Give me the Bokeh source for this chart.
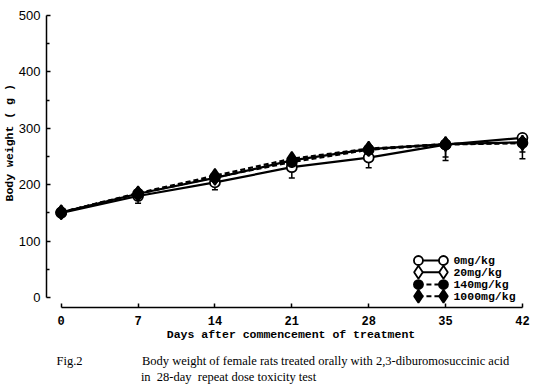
from bokeh.plotting import figure
from bokeh.models import Range1d, FixedTicker, Title, Whisker, ColumnDataSource, TeeHead
from bokeh.core.properties import value
from bokeh.embed import file_html
from bokeh.resources import INLINE

# ---- data ----
days = [0, 7, 14, 21, 28, 35, 42]
bw_0 = [150, 180, 204, 231, 248, 271, 283]
bw_20 = [151, 184, 212, 243, 263, 272, 275]
bw_140 = [151, 184, 213, 240, 262, 271, 274]
bw_1000 = [151, 185, 216, 246, 264, 272, 274]
sd_0 = [5, 13, 13, 19, 18, 22, 25]
sd_1000 = [5, 8, 10, 12, 10, 29, 28]
group_labels = ["  0mg/kg", " 20mg/kg", "140mg/kg", "1000mg/kg"]
x_ticks = [0, 7, 14, 21, 28, 35, 42]
y_ticks = [0, 100, 200, 300, 400, 500]
y_minor = [50, 150, 250, 350, 450]

MONO = "Liberation Mono"
SANS = "Liberation Sans"
SERIF = "Liberation Serif"

p = figure(frame_width=489, frame_height=294,
           min_border_left=41, min_border_right=1,
           min_border_top=13, min_border_bottom=82,
           x_range=Range1d(-1.338, 43.19), y_range=Range1d(-17.73, 503.5),
           output_backend="svg", toolbar_location=None)
p.grid.visible = False
p.outline_line_color = None
p.background_fill_color = "white"
p.border_fill_color = "white"

# axes
xa = p.xaxis[0]
xa.bounds = (0, 42)
xa.ticker = FixedTicker(ticks=x_ticks)
xa.major_tick_in = 4
xa.major_tick_out = 0
xa.minor_tick_in = 0
xa.minor_tick_out = 0
xa.axis_line_width = 1.5
xa.major_tick_line_width = 1.5
xa.major_label_standoff = 8
xa.major_label_text_font = MONO
xa.major_label_text_font_style = "bold"
xa.major_label_text_font_size = "12px"
xa.major_label_text_color = "black"
xa.axis_label = "Days after commencement of treatment"
xa.axis_label_text_font = MONO
xa.axis_label_text_font_style = "bold"
xa.axis_label_text_font_size = "11.5px"
xa.axis_label_text_color = "black"
xa.axis_label_standoff = 0

ya = p.yaxis[0]
ya.bounds = (0, 500)
ya.ticker = FixedTicker(ticks=y_ticks, minor_ticks=y_minor)
ya.major_tick_in = 4
ya.major_tick_out = 0
ya.minor_tick_in = 3
ya.minor_tick_out = 0
ya.axis_line_width = 1.5
ya.major_tick_line_width = 1.5
ya.minor_tick_line_width = 1.5
ya.major_label_standoff = 6
ya.major_label_text_font = SANS
ya.major_label_text_font_size = "13px"
ya.major_label_text_color = "black"

# y axis title as a side title (starting above the frame bottom)
p.add_layout(Title(text="Body weight ( g )", align="left", offset=106, standoff=0,
                   text_font=MONO, text_font_style="bold", text_font_size="11.5px",
                   text_color="black"), "left")

# caption below (two lines, second indented)
nb = "\u00a0"
caption = ("Fig.2" + nb * 19 +
           "Body weight of female rats treated orally with 2,3-diburomosuccinic acid\n" +
           nb * 27 + "in" + nb * 2 + "28-day" + nb * 2 + "repeat dose toxicity test")
p.add_layout(Title(text=caption, align="left", offset=10, standoff=17,
                   text_font=SERIF, text_font_style="normal", text_font_size="12.5px",
                   text_line_height=1.12, text_color="black"), "below")

# series
series = [
    (bw_0, "solid", "circle", "white", 10),
    (bw_20, "solid", "diamond", "white", 14),
    (bw_140, "5 3", "circle", "black", 10),
    (bw_1000, "5 3", "diamond", "black", 14),
]

# error bars (lower SD only)
for vals, sd in [(bw_0, sd_0), (bw_1000, sd_1000)]:
    src = ColumnDataSource(dict(x=days, up=vals, lo=[v - s for v, s in zip(vals, sd)]))
    w = Whisker(source=src, base="x", upper="up", lower="lo",
                upper_head=None, lower_head=TeeHead(size=6, line_width=1.5, line_color="black"),
                line_width=1.5, line_color="black")
    p.add_layout(w)

for vals, dash, mk, fill, sz in series:
    p.line(days, vals, line_color="black", line_width=2.2, line_dash=dash)
for vals, dash, mk, fill, sz in series:
    p.scatter(days, vals, marker=mk, size=sz, fill_color=fill,
              line_color="black", line_width=1.8)

# manual legend (layout positions in data units)
leg_x0, leg_x1, leg_tx = 32.53, 34.81, 35.72
leg_rows = [65.6, 44.9, 23.0, 2.3]
for (vals, dash, mk, fill, sz), ly, lab in zip(series, leg_rows, group_labels):
    p.line([leg_x0, leg_x1], [ly, ly], line_color="black", line_width=2, line_dash=dash)
    p.scatter([leg_x0, leg_x1], [ly, ly], marker=mk, size=sz - 1, fill_color=fill,
              line_color="black", line_width=1.8)
    p.text([leg_tx], [ly], text=[lab], text_font=value(MONO), text_font_style="bold",
           text_font_size="11.5px", text_baseline="middle", text_align="left",
           text_color="black")

open("out.html", "w").write(file_html(p, INLINE))
